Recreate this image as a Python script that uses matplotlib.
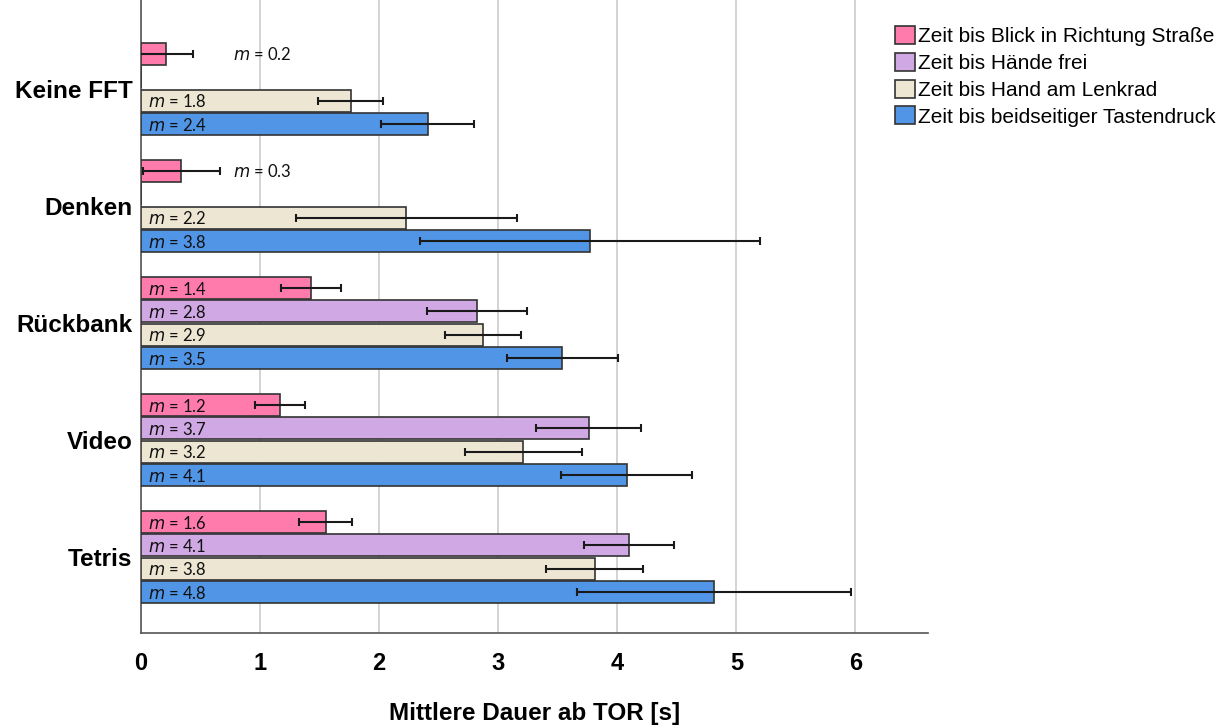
import numpy as np
import matplotlib
matplotlib.use("Agg")
import matplotlib.pyplot as plt
from matplotlib.patches import Patch
from matplotlib.ticker import MultipleLocator

# Gruppen (von oben nach unten) und Messgrößen
gruppen = ["Keine FFT", "Denken", "Rückbank", "Video", "Tetris"]
serien = ["Zeit bis Blick in Richtung Straße", "Zeit bis Hände frei",
          "Zeit bis Hand am Lenkrad", "Zeit bis beidseitiger Tastendruck"]

# Mittelwerte [s] je Serie, Reihenfolge wie gruppen
blick = [0.21, 0.34, 1.43, 1.17, 1.55]
haende = [0.0, 0.0, 2.82, 3.76, 4.10]
lenkrad = [1.76, 2.23, 2.87, 3.21, 3.81]
taste = [2.41, 3.77, 3.54, 4.08, 4.81]

# Fehlerbalken (halbe Breite) [s]
blick_err = [0.23, 0.32, 0.25, 0.21, 0.22]
haende_err = [0.0, 0.0, 0.42, 0.44, 0.38]
lenkrad_err = [0.27, 0.93, 0.32, 0.49, 0.41]
taste_err = [0.39, 1.43, 0.47, 0.55, 1.15]

# angezeigte Mittelwerte
blick_lab = ["0.2", "0.3", "1.4", "1.2", "1.6"]
haende_lab = ["", "", "2.8", "3.7", "4.1"]
lenkrad_lab = ["1.8", "2.2", "2.9", "3.2", "3.8"]
taste_lab = ["2.4", "3.8", "3.5", "4.1", "4.8"]

werte = [blick, haende, lenkrad, taste]
fehler = [blick_err, haende_err, lenkrad_err, taste_err]
labels = [blick_lab, haende_lab, lenkrad_lab, taste_lab]
farben = ["#ff7bac", "#d0a9e4", "#ede6d2", "#5195e6"]

fig = plt.figure(figsize=(12.3, 7.27), dpi=100)
ax = fig.add_axes([0.1146, 0.1293, 0.6399, 0.8707])

y0 = np.arange(len(gruppen))
slot = 0.2
h = 0.19
for k in range(4):
    y = y0 + (k - 1.5) * slot
    ax.barh(y, werte[k], height=h, color=farben[k], edgecolor="#333333",
            linewidth=1.2, zorder=3)
    for i in range(len(gruppen)):
        if werte[k][i] > 0:
            ax.errorbar(werte[k][i], y[i], xerr=fehler[k][i], fmt="none",
                        ecolor="#1a1a1a", elinewidth=1.5, capsize=3,
                        capthick=1.5, zorder=4)
        if labels[k][i]:
            # kurze Balken: Beschriftung rechts daneben
            xt = 0.77 if werte[k][i] < 0.5 else 0.06
            ax.text(xt, y[i] + 0.01, r"$m$ = " + labels[k][i], va="center",
                    ha="left", fontsize=12, family="Lato", color="#111111",
                    zorder=5)

ax.set_ylim(4.65, -0.76)
ax.set_xlim(0, 6.61)
ax.set_yticks(y0)
ax.set_yticklabels(gruppen, fontsize=17.5, fontweight="bold",
                   family="Liberation Sans")
ax.xaxis.set_major_locator(MultipleLocator(1))
ax.tick_params(axis="x", labelsize=17, length=0, pad=14)
ax.tick_params(axis="y", length=0, pad=6)
for t in ax.get_xticklabels():
    t.set_family("Liberation Sans")
    t.set_fontweight("bold")

ax.grid(axis="x", color="#d0d0d0", linewidth=1.3, zorder=0)
ax.spines["top"].set_visible(False)
ax.spines["right"].set_visible(False)
ax.spines["left"].set_color("#555555")
ax.spines["bottom"].set_color("#555555")
ax.spines["left"].set_linewidth(1.2)
ax.spines["bottom"].set_linewidth(1.2)

ax.set_xlabel("Mittlere Dauer ab TOR [s]", fontsize=17.5, fontweight="bold",
              family="Liberation Sans", labelpad=19)

handles = [Patch(facecolor=farben[k], edgecolor="#333333", linewidth=1.2)
           for k in range(4)]
fig.legend(handles, serien, loc="upper left", bbox_to_anchor=(0.7125, 0.99),
           frameon=False, prop={"family": "Liberation Sans", "size": 15},
           handlelength=0.95, handleheight=0.95, handletextpad=0.15,
           labelspacing=0.32)

fig.savefig("out.png", dpi=100, facecolor="white")
